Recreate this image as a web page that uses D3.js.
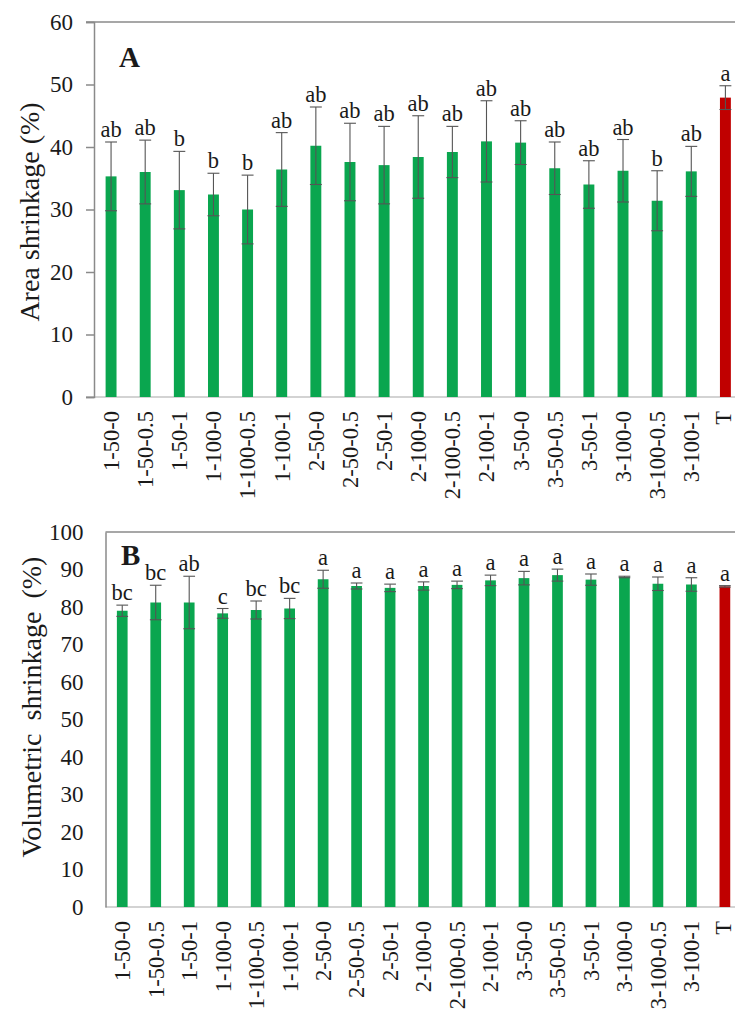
<!DOCTYPE html>
<html>
<head>
<meta charset="utf-8">
<script src="https://cdn.jsdelivr.net/npm/d3@7/dist/d3.min.js"></script>
<style>
  html, body { margin: 0; padding: 0; background: #fff; }
  svg { display: block; }
  text { font-family: "Liberation Serif", "Times New Roman", serif; fill: #1a1a1a; }
</style>
</head>
<body>
<svg id="chart" width="735" height="1014"></svg>
<script>
// Treatment groups (shared by both panels)
const categories = ["1-50-0","1-50-0.5","1-50-1","1-100-0","1-100-0.5","1-100-1",
  "2-50-0","2-50-0.5","2-50-1","2-100-0","2-100-0.5","2-100-1",
  "3-50-0","3-50-0.5","3-50-1","3-100-0","3-100-0.5","3-100-1","T"];

// Panel A: area shrinkage (%)
const areaMean = [35.3, 36.0, 33.1, 32.4, 30.0, 36.4, 40.2, 37.6, 37.1, 38.4, 39.2, 40.9, 40.7, 36.6, 34.0, 36.2, 31.4, 36.1, 47.9];
const areaErr  = [5.5, 5.1, 6.2, 3.4, 5.5, 5.9, 6.2, 6.2, 6.2, 6.6, 4.1, 6.5, 3.5, 4.2, 3.8, 5.0, 4.8, 4.0, 1.9];
const areaLetters = ["ab","ab","b","b","b","ab","ab","ab","ab","ab","ab","ab","ab","ab","ab","ab","b","ab","a"];
const areaTicks = [0, 10, 20, 30, 40, 50, 60];

// Panel B: volumetric shrinkage (%)
const volMean = [79.0, 81.2, 81.2, 78.3, 79.2, 79.6, 87.4, 85.6, 85.1, 85.6, 85.9, 87.1, 87.7, 88.5, 87.3, 88.0, 86.2, 86.0, 85.5];
const volErr  = [1.5, 4.6, 7.0, 1.3, 2.4, 2.7, 2.4, 0.8, 1.0, 1.1, 1.0, 1.4, 1.8, 1.6, 1.5, 0.2, 1.8, 1.8, 0.2];
const volLetters = ["bc","bc","ab","c","bc","bc","a","a","a","a","a","a","a","a","a","a","a","a","a"];
const volTicks = [0, 10, 20, 30, 40, 50, 60, 70, 80, 90, 100];

const GREEN = "#0aa64f";
const RED = "#c00000";
const ERR = "#555";

const svg = d3.select("#chart");

function panel(opts) {
  const g = svg.append("g");
  const { left, top, bottom, step, yMax, ticks, means, errs, letters,
          title, titleX, titleY, tag, tagX, tagY, tagSize, tickLen, tickLabelGap } = opts;
  const right = left + step * categories.length;

  const x = d3.scaleBand().domain(categories).range([left, right]).paddingInner(0.68).paddingOuter(0.34);
  const y = d3.scaleLinear().domain([0, yMax]).range([bottom, top]);

  // frame: top border, left axis, baseline
  g.append("line").attr("x1", left - tickLen).attr("x2", 735).attr("y1", top).attr("y2", top)
    .attr("stroke", "#8a8a8a").attr("stroke-width", 1.5);
  g.append("line").attr("x1", left - tickLen).attr("x2", 735).attr("y1", bottom).attr("y2", bottom)
    .attr("stroke", "#c4c4c4").attr("stroke-width", 1.5);

  const yAxis = d3.axisLeft(y).tickValues(ticks).tickSize(tickLen).tickPadding(tickLabelGap).tickFormat(d3.format("d"));
  const ag = g.append("g").attr("transform", `translate(${left},0)`).call(yAxis);
  ag.select(".domain").attr("stroke", "#8a8a8a").attr("stroke-width", 1.5);
  ag.selectAll(".tick line").attr("stroke", "#8a8a8a").attr("stroke-width", 1.5);
  ag.selectAll(".tick text").attr("font-size", 23).attr("font-family", "Liberation Serif").attr("fill", "#1a1a1a");

  // bars
  g.selectAll("rect.bar").data(categories).enter().append("rect")
    .attr("x", d => x(d)).attr("width", x.bandwidth())
    .attr("y", (d, i) => y(means[i])).attr("height", (d, i) => bottom - y(means[i]))
    .attr("fill", d => d === "T" ? RED : GREEN);

  // error bars
  const cap = x.bandwidth() / 2 + 0.5;
  const eb = g.selectAll("g.err").data(categories).enter().append("g")
    .attr("stroke", ERR).attr("stroke-width", 1.1);
  eb.append("line").attr("x1", d => x(d) + x.bandwidth() / 2).attr("x2", d => x(d) + x.bandwidth() / 2)
    .attr("y1", (d, i) => y(means[i] + errs[i])).attr("y2", (d, i) => y(means[i] - errs[i]));
  eb.append("line").attr("x1", d => x(d) + x.bandwidth() / 2 - cap).attr("x2", d => x(d) + x.bandwidth() / 2 + cap)
    .attr("y1", (d, i) => y(means[i] + errs[i])).attr("y2", (d, i) => y(means[i] + errs[i]));
  eb.append("line").attr("x1", d => x(d) + x.bandwidth() / 2 - cap).attr("x2", d => x(d) + x.bandwidth() / 2 + cap)
    .attr("y1", (d, i) => y(means[i] - errs[i])).attr("y2", (d, i) => y(means[i] - errs[i]));

  // significance letters
  g.selectAll("text.sig").data(categories).enter().append("text")
    .attr("x", d => x(d) + x.bandwidth() / 2)
    .attr("y", (d, i) => y(means[i] + errs[i]) - 5)
    .attr("text-anchor", "middle").attr("font-size", 22.5)
    .text((d, i) => letters[i]);

  // category labels, rotated
  g.selectAll("text.cat").data(categories).enter().append("text")
    .attr("transform", d => `translate(${Math.min(x(d) + x.bandwidth() / 2, 723)},${bottom + 14}) rotate(-90)`)
    .attr("text-anchor", "end").attr("dy", "0.35em").attr("font-size", 22.5)
    .text(d => d);

  // axis title
  g.append("text").attr("transform", `translate(${titleX},${titleY}) rotate(-90)`)
    .attr("text-anchor", "middle").attr("dy", "0.35em").attr("font-size", 28)
    .attr("word-spacing", opts.wordSpacing || 0)
    .text(title);

  // panel tag
  g.append("text").attr("x", tagX).attr("y", tagY).attr("font-size", tagSize).attr("font-weight", "bold")
    .text(tag);
}

panel({
  left: 94, top: 22, bottom: 397, step: 34.13, yMax: 60, ticks: areaTicks,
  means: areaMean, errs: areaErr, letters: areaLetters,
  title: "Area shrinkage (%)", titleX: 29, titleY: 212,
  tag: "A", tagX: 119, tagY: 67, tagSize: 29, tickLen: 8, tickLabelGap: 13
});

panel({
  left: 105.5, top: 532, bottom: 907, step: 33.48, yMax: 100, ticks: volTicks,
  means: volMean, errs: volErr, letters: volLetters,
  title: "Volumetric shrinkage (%)", titleX: 31, titleY: 707, wordSpacing: 6,
  tag: "B", tagX: 121, tagY: 565, tagSize: 29, tickLen: 0, tickLabelGap: 22
});
</script>
</body>
</html>
